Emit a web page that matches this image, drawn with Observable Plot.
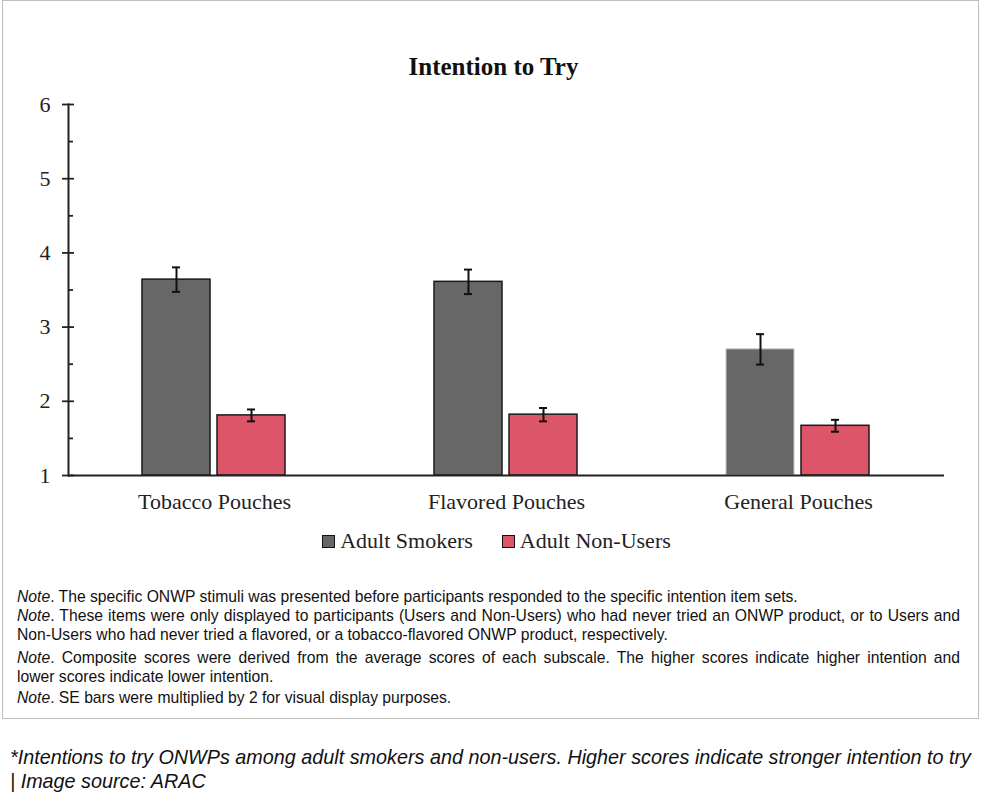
<!DOCTYPE html>
<html>
<head>
<meta charset="utf-8">
<script src="https://cdn.jsdelivr.net/npm/d3@7"></script>
<script src="https://cdn.jsdelivr.net/npm/@observablehq/plot@0.6"></script>
<style>
  html, body { margin: 0; padding: 0; background: #fff; }
  #page { position: relative; width: 983px; height: 803px; overflow: hidden; }
  #box { position: absolute; left: 2px; top: 0px; width: 977px; height: 719px; border: 1.5px solid #bdbdbd; box-sizing: border-box; }
  #title { position: absolute; left: 2px; width: 983px; top: 53px; text-align: center; font: bold 25px "Liberation Serif", serif; color: #111; }
  #chart { position: absolute; left: 0; top: 90px; }
  #legend { position: absolute; left: 5px; width: 983px; top: 528px; display: flex; justify-content: center; gap: 29px; font: 22px "Liberation Serif", serif; color: #222; }
  #legend span.item { display: flex; align-items: center; gap: 5px; }
  #legend span.sw { display: inline-block; width: 11px; height: 11px; border: 1.5px solid #111; }
  #notes { position: absolute; left: 17px; width: 943px; top: 587px; font: 15.7px "Liberation Sans", Arial, sans-serif; line-height: 19px; color: #111; }
  #notes .j { text-align: justify; text-align-last: justify; }
  #caption { position: absolute; left: 10px; top: 745px; width: 973px; font: italic 19.8px "Liberation Sans", Arial, sans-serif; line-height: 24px; color: #111; white-space: nowrap; }
</style>
</head>
<body>
<div id="page">
  <div id="box"></div>
  <div id="title">Intention to Try</div>
  <div id="chart"></div>
  <div id="legend"></div>
  <div id="notes">
    <div><i>Note</i>. The specific ONWP stimuli was presented before participants responded to the specific intention item sets.</div>
    <div class="j"><i>Note</i>. These items were only displayed to participants (Users and Non-Users) who had never tried an ONWP product, or to Users and</div>
    <div>Non-Users who had never tried a flavored, or a tobacco-flavored ONWP product, respectively.</div>
    <div class="j" style="margin-top:4px"><i>Note</i>. Composite scores were derived from the average scores of each subscale. The higher scores indicate higher intention and</div>
    <div>lower scores indicate lower intention.</div>
    <div style="margin-top:2px"><i>Note</i>. SE bars were multiplied by 2 for visual display purposes.</div>
  </div>
  <div id="caption">*Intentions to try ONWPs among adult smokers and non-users. Higher scores indicate stronger intention to try<br>| Image source: ARAC</div>
</div>
<script>
// ---- Data ----
const categories = ["Tobacco Pouches", "Flavored Pouches", "General Pouches"];
const groups = ["Adult Smokers", "Adult Non-Users"];
const smokers = [3.64, 3.61, 2.70];
const nonUsers = [1.81, 1.82, 1.67];
const smokersErr = [0.165, 0.165, 0.205];   // 2×SE half-width
const nonUsersErr = [0.08, 0.09, 0.08];
const yMajor = [1, 2, 3, 4, 5, 6];
const yMinor = [1.5, 2.5, 3.5, 4.5, 5.5];
const colors = ["#676767", "#dc5569"];

const rows = categories.flatMap((c, i) => [
  {category: c, group: groups[0], value: smokers[i], err: smokersErr[i]},
  {category: c, group: groups[1], value: nonUsers[i], err: nonUsersErr[i]}
]);
const noOutline = d => d.category === "General Pouches" && d.group === "Adult Smokers";

const chart = Plot.plot({
  width: 983,
  height: 430,
  marginLeft: 68,
  marginRight: 39,
  marginTop: 14,
  marginBottom: 45,
  style: {fontFamily: "Liberation Serif, serif", fontSize: "22px", color: "#222", background: "transparent", overflow: "visible"},
  fx: {domain: categories, padding: 0, label: null},
  x: {domain: groups, paddingInner: 0.093, paddingOuter: 0.993, axis: null},
  y: {domain: [1, 6], label: null},
  color: {domain: groups, range: colors},
  marks: [
    Plot.barY(rows, {fx: "category", x: "group", y1: 1, y2: "value", fill: "group", stroke: "#1a1a1a", strokeWidth: 1.5, filter: d => !noOutline(d)}),
    Plot.barY(rows, {fx: "category", x: "group", y1: 1, y2: "value", fill: "group", stroke: "#c8c8c8", strokeWidth: 1, filter: noOutline}),
    Plot.ruleY([1], {stroke: "#222", strokeWidth: 2}),
    Plot.frame({anchor: "left", facetAnchor: "left", stroke: "#222", strokeWidth: 2}),
    Plot.axisY(yMajor, {tickSize: 12, dx: 6, fill: "none", label: null, stroke: "#222", strokeWidth: 1.8}),
    Plot.axisY(yMinor, {tickSize: 5, dx: 5, fill: "none", label: null, stroke: "#222", strokeWidth: 1.8}),
    Plot.axisY(yMajor, {tickSize: 0, tickPadding: 18, tickFormat: "d", label: null, fontSize: 22, fill: "#222"}),
    Plot.axisFx({anchor: "bottom", tickSize: 0, tickPadding: 18, label: null, fontSize: 22, fill: "#222"}),
    Plot.ruleX(rows, {fx: "category", x: "group", y1: d => d.value - d.err, y2: d => d.value + d.err, stroke: "#111", strokeWidth: 2}),
    Plot.tickY(rows, {fx: "category", x: "group", y: d => d.value + d.err, insetLeft: 30, insetRight: 30, stroke: "#111", strokeWidth: 2}),
    Plot.tickY(rows, {fx: "category", x: "group", y: d => d.value - d.err, insetLeft: 30, insetRight: 30, stroke: "#111", strokeWidth: 2})
  ]
});
document.getElementById("chart").appendChild(chart);

// Legend
const legend = document.getElementById("legend");
groups.forEach((g, i) => {
  const item = document.createElement("span");
  item.className = "item";
  const sw = document.createElement("span");
  sw.className = "sw";
  sw.style.background = colors[i];
  item.appendChild(sw);
  item.appendChild(document.createTextNode(g));
  legend.appendChild(item);
});
</script>
</body>
</html>
